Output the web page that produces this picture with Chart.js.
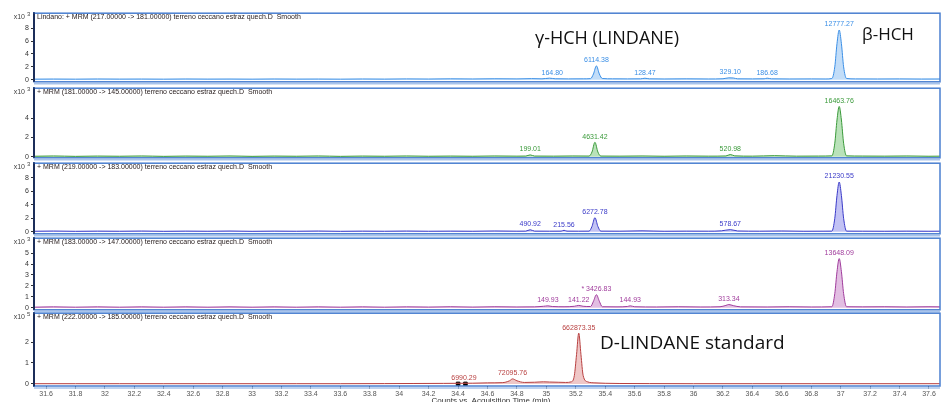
<!DOCTYPE html>
<html>
<head>
<meta charset="utf-8">
<script src="https://cdn.jsdelivr.net/npm/chart.js@4.4.0/dist/chart.umd.min.js"></script>
<style>
  body { margin: 0; background: #fff; width: 943px; height: 402px; overflow: hidden; position: relative; }
  canvas { position: absolute; left: 0; }
  .note { position: absolute; font-family: 'Open Sans', sans-serif; color: #111; white-space: nowrap; line-height: 1; }
</style>
</head>
<body>
<canvas id="p1"></canvas>
<canvas id="p2"></canvas>
<canvas id="p3"></canvas>
<canvas id="p4"></canvas>
<canvas id="p5"></canvas>
<div class="note" style="left:535px;top:28px;font-size:18px;">γ-HCH (LINDANE)</div>
<div class="note" style="left:862px;top:25px;font-size:17px;">β-HCH</div>
<div class="note" style="left:600px;top:333px;font-size:19px;">D-LINDANE standard</div>
<script>
// acquisition time axis (min)
const xTicks = [31.6, 31.8, 32, 32.2, 32.4, 32.6, 32.8, 33, 33.2, 33.4, 33.6, 33.8, 34, 34.2, 34.4, 34.6,
  34.8, 35, 35.2, 35.4, 35.6, 35.8, 36, 36.2, 36.4, 36.6, 36.8, 37, 37.2, 37.4, 37.6];

// panel titles
const titles = [
  'Lindano: + MRM (217.00000 -> 181.00000) terreno ceccano estraz quech.D  Smooth',
  '+ MRM (181.00000 -> 145.00000) terreno ceccano estraz quech.D  Smooth',
  '+ MRM (219.00000 -> 183.00000) terreno ceccano estraz quech.D  Smooth',
  '+ MRM (183.00000 -> 147.00000) terreno ceccano estraz quech.D  Smooth',
  '+ MRM (222.00000 -> 185.00000) terreno ceccano estraz quech.D  Smooth'
];

// y tick labels per panel (counts x10^n)
const yTicks1 = [0, 2, 4, 6, 8];
const yTicks2 = [0, 2, 4];
const yTicks3 = [0, 2, 4, 6, 8];
const yTicks4 = [0, 1, 2, 3, 4, 5];
const yTicks5 = [0, 1, 2];

// traces [time, counts]
const trace1 = [[31.52,0.10],[31.65,0.12],[31.8,0.10],[31.95,0.13],[32.1,0.11],[32.25,0.12],[32.4,0.10],[32.55,0.13],
  [32.7,0.11],[32.85,0.12],[33.0,0.10],[33.15,0.13],[33.3,0.11],[33.45,0.12],[33.6,0.10],[33.75,0.13],[33.9,0.11],
  [34.05,0.14],[34.2,0.12],[34.35,0.15],[34.5,0.13],[34.65,0.16],[34.8,0.14],[34.9,0.18],[34.97,0.15],[35.02,0.25],
  [35.06,0.16],[35.15,0.14],[35.25,0.15],[35.30,0.18],[35.32,0.9],[35.34,2.15],[35.36,0.9],[35.38,0.2],[35.45,0.15],
  [35.55,0.14],[35.64,0.15],[35.67,0.24],[35.70,0.15],[35.8,0.13],[35.95,0.15],[36.1,0.13],[36.2,0.16],[36.24,0.30],
  [36.27,0.28],[36.3,0.15],[36.4,0.14],[36.48,0.16],[36.50,0.25],[36.53,0.15],[36.65,0.13],[36.8,0.14],[36.9,0.13],
  [36.94,0.2],[36.96,2.0],[36.975,5.6],[36.99,7.7],[37.005,5.6],[37.02,2.0],[37.04,0.2],[37.1,0.14],[37.25,0.13],
  [37.4,0.14],[37.55,0.12],[37.68,0.13]];
const trace2 = [[31.52,0.06],[31.65,0.09],[31.8,0.05],[31.95,0.08],[32.1,0.06],[32.25,0.09],[32.4,0.05],[32.55,0.08],
  [32.7,0.06],[32.85,0.09],[33.0,0.05],[33.15,0.08],[33.3,0.06],[33.45,0.09],[33.6,0.05],[33.75,0.08],[33.9,0.06],
  [34.05,0.09],[34.2,0.06],[34.35,0.08],[34.5,0.06],[34.65,0.09],[34.8,0.07],[34.86,0.08],[34.89,0.2],[34.92,0.08],
  [35.05,0.07],[35.18,0.09],[35.29,0.08],[35.31,0.5],[35.33,1.5],[35.35,0.5],[35.37,0.08],[35.5,0.07],[35.65,0.09],
  [35.8,0.06],[35.95,0.09],[36.1,0.07],[36.22,0.09],[36.25,0.24],[36.28,0.1],[36.4,0.07],[36.55,0.12],[36.7,0.07],
  [36.85,0.08],[36.94,0.1],[36.96,1.4],[36.975,3.8],[36.99,5.2],[37.005,3.8],[37.02,1.4],[37.04,0.1],[37.15,0.08],
  [37.3,0.07],[37.45,0.09],[37.6,0.06],[37.68,0.07]];
const trace3 = [[31.52,0.08],[31.65,0.11],[31.8,0.07],[31.95,0.10],[32.1,0.08],[32.25,0.11],[32.4,0.07],[32.55,0.10],
  [32.7,0.08],[32.85,0.11],[33.0,0.07],[33.15,0.10],[33.3,0.08],[33.45,0.11],[33.6,0.07],[33.75,0.10],[33.9,0.08],
  [34.05,0.11],[34.2,0.08],[34.35,0.10],[34.5,0.08],[34.65,0.12],[34.8,0.09],[34.86,0.1],[34.89,0.3],[34.92,0.1],
  [35.02,0.09],[35.10,0.1],[35.12,0.22],[35.14,0.1],[35.22,0.09],[35.29,0.1],[35.31,0.8],[35.33,2.1],[35.35,0.8],
  [35.37,0.1],[35.5,0.09],[35.65,0.14],[35.8,0.08],[35.95,0.1],[36.1,0.09],[36.19,0.14],[36.25,0.32],[36.3,0.12],
  [36.45,0.09],[36.6,0.12],[36.75,0.08],[36.88,0.09],[36.94,0.1],[36.96,2.0],[36.975,5.4],[36.99,7.4],[37.005,5.4],
  [37.02,2.0],[37.04,0.1],[37.15,0.09],[37.3,0.08],[37.45,0.1],[37.6,0.08],[37.68,0.09]];
const trace4 = [[31.52,0.06],[31.65,0.09],[31.8,0.06],[31.95,0.09],[32.1,0.06],[32.25,0.09],[32.4,0.06],[32.55,0.09],
  [32.7,0.06],[32.85,0.09],[33.0,0.06],[33.15,0.09],[33.3,0.06],[33.45,0.09],[33.6,0.06],[33.75,0.09],[33.9,0.06],
  [34.05,0.09],[34.2,0.07],[34.35,0.10],[34.5,0.07],[34.65,0.10],[34.8,0.08],[34.92,0.09],[34.98,0.14],[35.01,0.18],
  [35.04,0.12],[35.12,0.1],[35.19,0.14],[35.22,0.22],[35.25,0.14],[35.30,0.12],[35.32,0.6],[35.34,1.2],[35.36,0.6],
  [35.38,0.1],[35.48,0.09],[35.55,0.12],[35.57,0.18],[35.60,0.1],[35.75,0.08],[35.9,0.1],[36.05,0.08],[36.18,0.1],
  [36.22,0.22],[36.24,0.3],[36.27,0.2],[36.32,0.09],[36.5,0.08],[36.65,0.1],[36.8,0.08],[36.94,0.1],[36.96,1.3],
  [36.975,3.3],[36.99,4.5],[37.005,3.3],[37.02,1.3],[37.04,0.1],[37.15,0.09],[37.3,0.1],[37.45,0.08],[37.6,0.1],
  [37.68,0.09]];
const trace5 = [[31.52,0.01],[31.8,0.01],[32.1,0.01],[32.4,0.01],[32.7,0.01],[33.0,0.01],[33.3,0.01],[33.6,0.01],
  [33.9,0.015],[34.1,0.02],[34.3,0.025],[34.42,0.03],[34.5,0.035],[34.6,0.05],[34.7,0.06],[34.75,0.15],[34.77,0.24],
  [34.8,0.15],[34.85,0.07],[34.92,0.08],[34.98,0.1],[35.02,0.09],[35.08,0.08],[35.13,0.07],[35.17,0.1],[35.19,0.4],
  [35.205,1.4],[35.22,2.43],[35.235,1.4],[35.25,0.4],[35.28,0.1],[35.33,0.05],[35.4,0.03],[35.5,0.02],[35.7,0.015],
  [36.0,0.01],[36.4,0.01],[36.8,0.01],[37.2,0.01],[37.68,0.01]];
const marks5 = [[34.40, 0], [34.45, 0]];

// peak annotations [time, label]
const peaks1 = [[35.04,'164.80'],[35.34,'6114.38'],[35.67,'128.47'],[36.25,'329.10'],[36.50,'186.68'],[36.99,'12777.27']];
const peaks2 = [[34.89,'199.01'],[35.33,'4631.42'],[36.25,'520.98'],[36.99,'16463.76']];
const peaks3 = [[34.89,'490.92'],[35.12,'215.56'],[35.33,'6272.78'],[36.25,'578.67'],[36.99,'21230.55']];
const peaks4 = [[35.01,'149.93'],[35.22,'141.22'],[35.34,'* 3426.83'],[35.57,'144.93'],[36.24,'313.34'],[36.99,'13648.09']];
const peaks5 = [[34.44,'6990.29'],[34.77,'72095.76'],[35.22,'662873.35']];

const panelPlugin = {
  id: 'panel',
  afterDatasetsDraw(chart, args, opts) {
    const ctx = chart.ctx;
    const a = chart.chartArea;
    const xs = chart.scales.x;
    const ys = chart.scales.y;
    ctx.save();
    // frame
    ctx.strokeStyle = '#4a7fd0';
    ctx.lineWidth = 1.5;
    ctx.strokeRect(a.left, a.top, a.right - a.left, a.bottom - a.top);
    ctx.strokeStyle = '#a8c4ec';
    ctx.lineWidth = 1.5;
    ctx.beginPath();
    ctx.moveTo(a.left, a.bottom + 2);
    ctx.lineTo(a.right, a.bottom + 2);
    ctx.stroke();
    ctx.strokeStyle = '#1c2e5a';
    ctx.lineWidth = 2;
    ctx.beginPath();
    ctx.moveTo(a.left, a.top);
    ctx.lineTo(a.left, a.bottom);
    ctx.stroke();

    // title
    ctx.fillStyle = '#2a2020';
    ctx.font = '7px "Liberation Sans", Arial, sans-serif';
    ctx.textAlign = 'left';
    ctx.textBaseline = 'middle';
    ctx.fillText(opts.title, a.left + 3, a.top + 4);

    // exponent
    ctx.fillStyle = '#444';
    ctx.textAlign = 'right';
    ctx.textBaseline = 'alphabetic';
    ctx.fillText('x10', 25, a.top + 6);
    ctx.font = '6px "Liberation Sans", Arial, sans-serif';
    ctx.textAlign = 'left';
    ctx.fillText(opts.exp, 27, a.top + 3);

    // peak labels
    ctx.fillStyle = opts.color;
    ctx.font = '7px "Liberation Sans", Arial, sans-serif';
    ctx.textAlign = 'center';
    ctx.textBaseline = 'bottom';
    opts.peaks.forEach(p => {
      let top = 0;
      opts.trace.forEach(q => {
        if (Math.abs(q[0] - p[0]) <= 0.03 && q[1] > top) top = q[1];
      });
      ctx.fillText(p[1], xs.getPixelForValue(p[0]), ys.getPixelForValue(top) - 2);
    });

    if (opts.last) {
      ctx.fillStyle = '#333';
      ctx.font = '8px "Liberation Sans", Arial, sans-serif';
      ctx.textBaseline = 'top';
      ctx.fillText('Counts vs. Acquisition Time (min)', 491, chart.height - 5);
    }
    ctx.restore();
  }
};

function makePanel(id, top, height, p) {
  const canvas = document.getElementById(id);
  canvas.width = 943;
  canvas.height = height;
  canvas.style.top = top + 'px';
  const datasets = [{
    data: p.trace.map(q => ({ x: q[0], y: q[1] })),
    borderColor: p.color,
    backgroundColor: p.fill,
    borderWidth: 1,
    pointRadius: 0,
    fill: 'origin',
    cubicInterpolationMode: 'monotone'
  }];
  if (p.marks) {
    datasets.push({
      data: p.marks.map(q => ({ x: q[0], y: q[1] })),
      showLine: false,
      pointStyle: 'rect',
      pointRadius: 2.5,
      backgroundColor: '#000',
      borderColor: '#000'
    });
  }
  return new Chart(canvas, {
    type: 'line',
    data: { datasets: datasets },
    options: {
      responsive: false,
      animation: false,
      events: [],
      layout: { autoPadding: false, padding: { top: 0, right: 3, bottom: 0, left: 0 } },
      plugins: {
        legend: { display: false },
        tooltip: { enabled: false },
        panel: { title: p.title, exp: p.exp, color: p.color, peaks: p.peaks, trace: p.trace, last: p.last }
      },
      scales: {
        x: {
          type: 'linear',
          min: 31.518,
          max: 37.675,
          display: !!p.last,
          afterFit: s => { s.height = p.last ? 16 : 0; },
          afterBuildTicks: s => { s.ticks = xTicks.map(v => ({ value: v })); },
          ticks: {
            autoSkip: false,
            maxRotation: 0,
            padding: 1,
            color: '#555',
            font: { size: 7, family: '"Liberation Sans", Arial, sans-serif' },
            callback: v => String(+v.toFixed(1))
          },
          grid: { drawOnChartArea: false, tickLength: 3, color: '#444' },
          border: { display: false }
        },
        y: {
          min: p.min,
          max: p.max,
          afterFit: s => { s.width = 34; },
          afterBuildTicks: s => { s.ticks = p.yTicks.map(v => ({ value: v })); },
          ticks: {
            padding: 2,
            color: '#333',
            font: { size: 7, family: '"Liberation Sans", Arial, sans-serif' }
          },
          grid: { drawOnChartArea: false, tickLength: 3, color: '#333' },
          border: { color: '#1c2e5a', width: 2 }
        }
      }
    },
    plugins: [panelPlugin]
  });
}

makePanel('p1', 7, 81, { trace: trace1, peaks: peaks1, yTicks: yTicks1, min: -0.31, max: 10.3,
  color: '#3b8fe6', fill: 'rgba(120,180,240,0.45)', title: titles[0], exp: '3' });
makePanel('p2', 82, 82, { trace: trace2, peaks: peaks2, yTicks: yTicks2, min: -0.1, max: 7.08,
  color: '#3a9a3a', fill: 'rgba(100,190,100,0.45)', title: titles[1], exp: '3' });
makePanel('p3', 157, 83, { trace: trace3, peaks: peaks3, yTicks: yTicks3, min: -0.3, max: 10.2,
  color: '#3a3ac8', fill: 'rgba(120,120,230,0.45)', title: titles[2], exp: '3' });
makePanel('p4', 232, 84, { trace: trace4, peaks: peaks4, yTicks: yTicks4, min: -0.18, max: 6.36,
  color: '#a03c9c', fill: 'rgba(190,110,190,0.45)', title: titles[3], exp: '3' });
makePanel('p5', 307, 95, { trace: trace5, peaks: peaks5, yTicks: yTicks5, min: -0.1, max: 3.38, marks: marks5,
  color: '#b84040', fill: 'rgba(220,130,130,0.45)', title: titles[4], exp: '5', last: true });
</script>
</body>
</html>
